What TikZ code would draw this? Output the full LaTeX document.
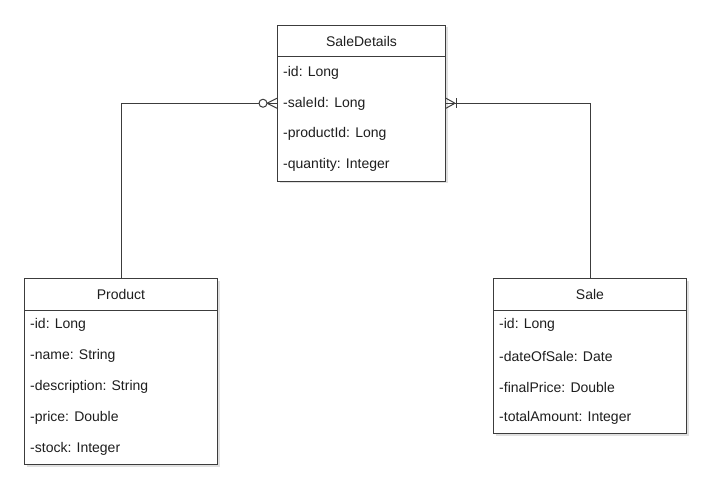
\documentclass[tikz,border=0pt]{standalone}
\usepackage{fontspec}
\setmainfont{Liberation Sans}
\usepackage{tikz}
\usetikzlibrary{calc,shadows}

\definecolor{edgegray}{HTML}{3C3C3C}
\definecolor{textgray}{HTML}{1E1E1E}

\tikzset{
  classbox/.style={draw=edgegray,line width=1pt,fill=white,anchor=north west,inner sep=0pt,
    drop shadow={shadow xshift=2pt,shadow yshift=-2pt,opacity=0.12,fill=black}},
  classhead/.style={draw=edgegray,line width=1pt,anchor=north,inner sep=0pt,minimum height=31.5pt,
    font=\fontsize{14}{16}\selectfont,text=textgray},
  attr/.style={anchor=west,inner sep=0pt,font=\fontsize{14}{16}\selectfont,text=textgray},
  rel/.style={draw=edgegray,line width=1pt},
}

\begin{document}
\begin{tikzpicture}[x=1pt,y=-1pt]
        % \draw[help lines,step=50] (0,0) grid (717,500);
        \useasboundingbox (0,0) rectangle (717,500);

        % classes
        \node[classbox,minimum width=168pt,minimum height=155.5pt] (sd) at (277,25) {};
        \node[classbox,minimum width=193pt,minimum height=186pt] (prod) at (24,278) {};
        \node[classbox,minimum width=193pt,minimum height=155pt] (sale) at (493,278) {};

        \node[classhead,minimum width=168pt] (sdHead) at (sd.north) {SaleDetails};
        \node[classhead,minimum width=193pt] (prodHead) at (prod.north) {Product};
        \node[classhead,minimum width=193pt] (saleHead) at (sale.north) {Sale};

        % attributes
        \foreach \txt [count=\i] in {-id: Long,-saleId: Long,-productId: Long,-quantity: Integer}
          \node[attr] (sdAttr\i) at (283,42.5+30.5*\i) {\txt};
        \foreach \txt [count=\i] in {-id: Long,-name: String,-description: String,-price: Double,-stock: Integer}
          \node[attr] (prodAttr\i) at (30,294+31*\i) {\txt};
        \foreach \txt [count=\i] in {-id: Long,-dateOfSale: Date,-finalPrice: Double,-totalAmount: Integer}
          \node[attr] (saleAttr\i) at (499,294+31*\i) {\txt};

        % product to sale details (zero or many)
        \draw[rel] (prod.north) |- (sd.west);
        \draw[rel] ($(sd.west)+(-10,0)$) -- ($(sd.west)+(0,-5)$)
                   ($(sd.west)+(-10,0)$) -- ($(sd.west)+(0,5)$);
        \draw[rel,fill=white] ($(sd.west)+(-14,0)$) circle (4pt);

        % sale to sale details (one or many)
        \draw[rel] (sale.north) |- (sd.east);
        \draw[rel] ($(sd.east)+(9,0)$) -- ($(sd.east)+(0,-5)$)
                   ($(sd.east)+(9,0)$) -- ($(sd.east)+(0,5)$);
        \draw[rel] ($(sd.east)+(10,-5)$) -- ($(sd.east)+(10,5)$);

\end{tikzpicture}
\end{document}
